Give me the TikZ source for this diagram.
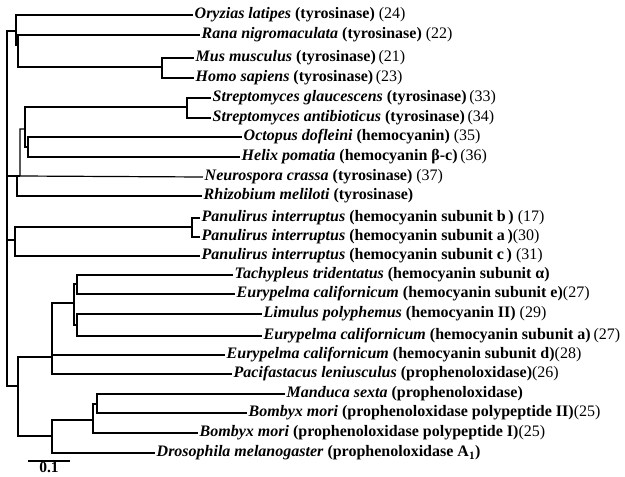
\documentclass[tikz,border=0pt]{standalone}
\usepackage{fontspec}
\setmainfont{Liberation Serif}
\tikzset{
  branch/.style={line width=1.2pt},
  leaf/.style={anchor=west,inner sep=1.5pt,font=\fontsize{16}{18}\selectfont},
}
\newcommand{\spname}[1]{\textbf{\textit{#1}}}
\newcommand{\prot}[1]{\textbf{(#1)}}
\begin{document}
\begin{tikzpicture}[x=1pt,y=1pt,yscale=-1,xscale=1]
\useasboundingbox (0,0) rectangle (625,477);

% Text Node
\node [leaf] (oryz) at (193,15) {\spname{Oryzias latipes} \prot{tyrosinase} (24)};
\node [leaf] (rana) at (200,35) {\spname{Rana nigromaculata} \prot{tyrosinase} (22)};
\node [leaf] (mus) at (194,58) {\spname{Mus musculus} \prot{tyrosinase}\,(21)};
\node [leaf] (homo) at (194,78) {\spname{Homo sapiens} \prot{tyrosinase}\,(23)};
\node [leaf] (sglau) at (211,98) {\spname{Streptomyces glaucescens} \prot{tyrosinase}\,(33)};
\node [leaf] (santi) at (211,118) {\spname{Streptomyces antibioticus} \prot{tyrosinase}\,(34)};
\node [leaf] (octo) at (242,137) {\spname{Octopus dofleini} \prot{hemocyanin} (35)};
\node [leaf] (helix) at (240,157) {\spname{Helix pomatia} \prot{hemocyanin β-c}\,(36)};
\node [leaf] (neuro) at (203,177) {\spname{Neurospora crassa} \prot{tyrosinase} (37)};
\node [leaf] (rhizo) at (202,196) {\spname{Rhizobium meliloti} \prot{tyrosinase}};
\node [leaf] (panb) at (200,218) {\spname{Panulirus interruptus} \prot{hemocyanin subunit b\,} (17)};
\node [leaf] (pana) at (200,237) {\spname{Panulirus interruptus} \prot{hemocyanin subunit a\,}(30)};
\node [leaf] (panc) at (200,256) {\spname{Panulirus interruptus} \prot{hemocyanin subunit c\,} (31)};
\node [leaf] (tachy) at (233,275) {\spname{Tachypleus tridentatus} \prot{hemocyanin subunit α}};
\node [leaf] (eurye) at (235,294) {\spname{Eurypelma californicum} \prot{hemocyanin subunit e}(27)};
\node [leaf] (limul) at (262,314) {\spname{Limulus polyphemus} \prot{hemocyanin II} (29)};
\node [leaf] (eurya) at (262,336) {\spname{Eurypelma californicum} \prot{hemocyanin subunit a}\,(27)};
\node [leaf] (euryd) at (225,355) {\spname{Eurypelma californicum} \prot{hemocyanin subunit d}(28)};
\node [leaf] (pacif) at (232,374) {\spname{Pacifastacus leniusculus} \prot{prophenoloxidase}(26)};
\node [leaf] (mandu) at (285,394) {\spname{Manduca sexta} \prot{prophenoloxidase}};
\node [leaf] (bomb2) at (247,413) {\spname{Bombyx mori} \prot{prophenoloxidase polypeptide II}(25)};
\node [leaf] (bomb1) at (198,433) {\spname{Bombyx mori} \prot{prophenoloxidase polypeptide I}(25)};
\node [leaf] (droso) at (155,453) {\spname{Drosophila melanogaster} \prot{prophenoloxidase A\textsubscript{1}}};

%Internal nodes
\coordinate (nR) at (7,208);
\coordinate (nV) at (16,31);
\coordinate (nV2) at (18,45);
\coordinate (nMH) at (162,67);
\coordinate (nY) at (17,176);
\coordinate (nX) at (20,176);
\coordinate (nSOH) at (25,129);
\coordinate (nST) at (187,107);
\coordinate (nOH) at (28,147);
\coordinate (nP) at (15,240);
\coordinate (nPAB) at (192,227);
\coordinate (nL) at (18,386);
\coordinate (nG) at (52,357);
\coordinate (nF) at (74,303);
\coordinate (nTE) at (77,284);
\coordinate (nLE) at (77,325);
\coordinate (nI) at (52,436);
\coordinate (nB) at (93,420);
\coordinate (nMB) at (97,404);

%Branches
\draw [branch] (nR) |- (nV) (nR) |- (nY) (nR) |- (nP) (nR) |- (nL);
\draw [branch] (nV) |- (oryz.west) (nV) |- (nV2);
\draw [branch] (nV2) |- (rana.west) (nV2) |- (nMH);
\draw [branch] (nMH) |- (mus.west) (nMH) |- (homo.west);
\draw [branch] (nY) -- (nX) (nY) |- (rhizo.west);
\draw [branch] (nX) -- (neuro.west) (nX) |- (nSOH);
\draw [branch] (nSOH) |- (nST) (nSOH) |- (nOH);
\draw [branch] (nST) |- (sglau.west) (nST) |- (santi.west);
\draw [branch] (nOH) |- (octo.west) (nOH) |- (helix.west);
\draw [branch] (nP) |- (nPAB) (nP) |- (panc.west);
\draw [branch] (nPAB) |- (panb.west) (nPAB) |- (pana.west);
\draw [branch] (nL) |- (nG) (nL) |- (nI);
\draw [branch] (nG) |- (nF) (nG) |- (euryd.west) (nG) |- (pacif.west);
\draw [branch] (nF) |- (nTE) (nF) |- (nLE);
\draw [branch] (nTE) |- (tachy.west) (nTE) |- (eurye.west);
\draw [branch] (nLE) |- (limul.west) (nLE) |- (eurya.west);
\draw [branch] (nI) |- (nB) (nI) |- (droso.west);
\draw [branch] (nB) |- (nMB) (nB) |- (bomb1.west);
\draw [branch] (nMB) |- (mandu.west) (nMB) |- (bomb2.west);

%Scale bar
\coordinate (sbL) at (28,461);
\coordinate (sbR) at (70,461);
\draw [branch] (sbL) -- (sbR) node [midway,below=0pt,inner sep=1pt,font=\fontsize{15.5}{18}\selectfont\bfseries] (sblab) {0.1};
\end{tikzpicture}
\end{document}
